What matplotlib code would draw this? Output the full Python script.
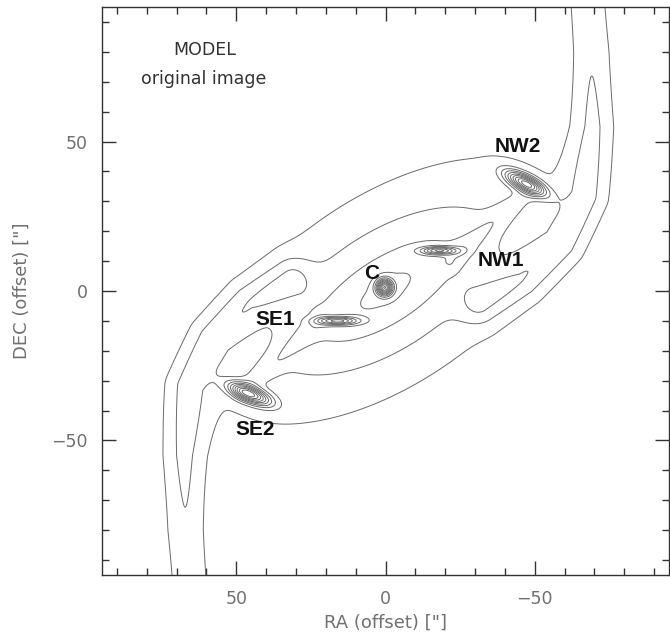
import numpy as np
import matplotlib
matplotlib.use("Agg")
import matplotlib.pyplot as plt
from matplotlib.ticker import MultipleLocator

# elliptical gaussian components of the model: bar, inner bar, nucleus C,
# the bar-end condensations NW2/SE2 and the inner knots NW1/SE1
comp_names = ["bar", "inner bar", "C", "NW2", "SE2", "NW1", "SE1"]
comp_x = [0.0, 0.0, 0.3, -47.0, 45.5, -18.0, 16.0]
comp_y = [0.0, 0.0, 1.2, 36.0, -34.5, 13.5, -10.0]
comp_amp = [3.0, 1.2, 10.0, 9.0, 9.0, 6.0, 6.0]
comp_sig_major = [44.0, 20.0, 1.8, 5.0, 5.0, 4.0, 4.5]
comp_sig_minor = [21.5, 7.0, 1.8, 1.8, 1.8, 0.9, 0.9]
comp_pa = [147.0, 148.0, 0.0, 27.0, 22.0, 0.0, 0.0]

# spiral arms leaving the bar ends (ridge spines, RA / DEC offsets)
nw_arm_x = [-32.0, -46.0, -59.0, -67.0, -69.5, -69.0, -67.5]
nw_arm_y = [-4.0, 4.0, 16.0, 32.0, 55.0, 80.0, 100.0]
se_arm_x = [32.0, 46.0, 58.0, 66.0, 67.5, 67.0, 65.5]
se_arm_y = [4.0, -4.0, -16.0, -32.0, -55.0, -80.0, -100.0]
arm_amp = 1.85
arm_sigma = 5.0

# gas lanes along the leading edges of the bar
nw_lane_x = [-22.0, -35.0, -48.0]
nw_lane_y = [10.0, 22.0, 33.0]
se_lane_x = [22.0, 35.0, 48.0]
se_lane_y = [-10.0, -22.0, -33.0]
lane_amp = 1.0
lane_sigma = 2.5

levels = np.arange(1, 18, 1.0)

labels = ["NW2", "NW1", "C", "SE1", "SE2"]
label_x = [-44.3, -38.5, 4.7, 37.0, 43.7]
label_y = [48.3, 10.1, 5.7, -9.7, -46.3]


def gauss2d(X, Y, x0, y0, amp, sa, sb, pa):
    t = np.deg2rad(pa)
    dx, dy = X - x0, Y - y0
    s = dx * np.cos(t) + dy * np.sin(t)
    p = -dx * np.sin(t) + dy * np.cos(t)
    return amp * np.exp(-0.5 * ((s / sa) ** 2 + (p / sb) ** 2))


def ridge(X, Y, px, py, amp, sig):
    # distance of every pixel to a polyline, turned into a gaussian ridge
    d2 = np.full(X.shape, np.inf)
    for i in range(len(px) - 1):
        ax_, ay_ = px[i], py[i]
        bx, by = px[i + 1], py[i + 1]
        vx, vy = bx - ax_, by - ay_
        L2 = vx * vx + vy * vy
        u = np.clip(((X - ax_) * vx + (Y - ay_) * vy) / L2, 0, 1)
        cx, cy = ax_ + u * vx, ay_ + u * vy
        d2 = np.minimum(d2, (X - cx) ** 2 + (Y - cy) ** 2)
    return amp * np.exp(-0.5 * d2 / sig ** 2)


x = np.arange(-96, 96.01, 0.25)
y = np.arange(-96, 96.01, 0.25)
X, Y = np.meshgrid(x, y)

Z = np.zeros_like(X)
for i in range(len(comp_names)):
    Z += gauss2d(X, Y, comp_x[i], comp_y[i], comp_amp[i],
                 comp_sig_major[i], comp_sig_minor[i], comp_pa[i])
Z += ridge(X, Y, nw_arm_x, nw_arm_y, arm_amp, arm_sigma)
Z += ridge(X, Y, se_arm_x, se_arm_y, arm_amp, arm_sigma)
Z += ridge(X, Y, nw_lane_x, nw_lane_y, lane_amp, lane_sigma)
Z += ridge(X, Y, se_lane_x, se_lane_y, lane_amp, lane_sigma)

fig = plt.figure(figsize=(6.7, 6.43), dpi=100)
ax = fig.add_axes([102 / 670, 68 / 643, 567 / 670, 568 / 643])

ax.contour(X, Y, Z, levels=levels, colors="#6a6a6a", linewidths=0.7)

ax.set_xlim(95, -95)
ax.set_ylim(-95, 95)

ax.xaxis.set_major_locator(MultipleLocator(50))
ax.yaxis.set_major_locator(MultipleLocator(50))
ax.xaxis.set_minor_locator(MultipleLocator(10))
ax.yaxis.set_minor_locator(MultipleLocator(10))
ax.tick_params(which="both", direction="in", top=True, right=True,
               color="#333333", width=1.0, labelcolor="#707070", labelsize=12.5)
ax.tick_params(which="major", length=10)
ax.tick_params(which="minor", length=5)
ax.tick_params(axis="x", pad=11)
ax.tick_params(axis="y", pad=10)
for sp in ax.spines.values():
    sp.set_color("#333333")
    sp.set_linewidth(1.0)

ax.set_xlabel('RA (offset) ["]', fontsize=13, color="#707070")
ax.set_ylabel('DEC (offset) ["]', fontsize=13, color="#707070")
ax.xaxis.set_label_coords(0.5, -0.068)
ax.yaxis.set_label_coords(-0.125, 0.5)

ax.text(60.7, 80.7, "MODEL", ha="center", va="center", fontsize=12.5, color="#333333")
ax.text(61.0, 71.0, "original image", ha="center", va="center", fontsize=12.5, color="#333333")

for name, lx, ly in zip(labels, label_x, label_y):
    ax.text(lx, ly, name, ha="center", va="center", fontsize=15,
            fontweight="bold", family="Liberation Sans", color="#111111")

fig.savefig("out.png", dpi=100)
